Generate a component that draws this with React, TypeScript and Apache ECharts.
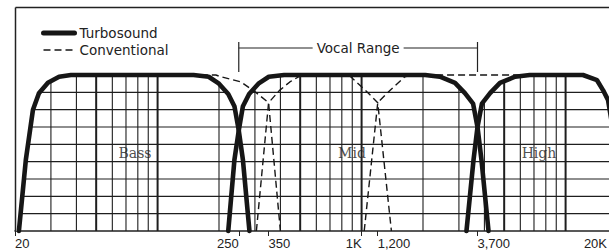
import React, { useEffect, useRef } from 'react';
import * as echarts from 'echarts';

// ---- data (frequency in Hz, level in grid units 0..9) ----
const turboBass: [number, number][] = [
  [20.9, 0], [22.6, 4.1], [24.5, 7.0], [26.2, 7.95], [29, 8.55], [32.9, 8.9], [37.6, 9],
  [150, 9], [178, 8.9], [200, 8.5], [222, 7.9], [238, 7.2], [250, 5.8], [262, 4.1], [282, 0],
];
const turboMid: [number, number][] = [
  [222, 0], [238, 4.1], [250, 5.8], [262, 7.2], [281, 7.9], [312, 8.5], [351, 8.9], [417, 9],
  [2050, 9], [2420, 8.9], [2870, 8.55], [3210, 7.95], [3520, 7.35], [3700, 6.0], [3870, 4.1], [4190, 0],
];
const turboHigh: [number, number][] = [
  [3267, 0], [3537, 4.1], [3700, 6.0], [3889, 7.35], [4265, 7.95], [4770, 8.55], [5657, 8.9], [6678, 9],
  [12170, 9], [14260, 8.7], [15250, 8.13], [16140, 7.56], [17100, 5.8], [18100, 2.9], [18800, 0],
];
const convBass: [number, number][] = [
  [20.9, 0], [22.6, 4.1], [24.5, 7.0], [26.2, 7.95], [29, 8.55], [32.9, 8.9], [37.6, 9],
  [193, 9], [204, 8.9], [256, 8.6], [303, 8.0], [350, 7.4], [400, 0],
];
const convMid: [number, number][] = [
  [305, 0], [350, 7.4], [395, 8.1], [445, 8.6], [500, 8.95], [520, 9],
  [860, 9], [884, 8.9], [1040, 8.14], [1200, 7.4], [1400, 0],
];
const convHigh: [number, number][] = [
  [1030, 0], [1200, 7.4], [1385, 8.14], [1630, 8.9], [1750, 9],
  [12170, 9], [14260, 8.7], [15250, 8.13], [16140, 7.56], [17100, 5.8], [18100, 2.9], [18800, 0],
];

const crossovers = [250, 3700];
const vocalRange = [250, 3700];
const tickFreqs = [20, 250, 350, 1000, 1200, 3700, 20000];
const tickLabels = ['20', '250', '350', '1K', '1,200', '3,700', '20K'];
const tickSide = ['left', 'right', 'left', 'right', 'left', 'left', 'right'];
const gridFreqs = [30, 40, 50, 60, 70, 80, 90, 100, 200, 300, 400, 500, 600, 700, 800, 900,
  1000, 2000, 3000, 4000, 5000, 6000, 7000, 8000, 9000, 10000];
const gridLevels = [1, 2, 3, 4, 5, 6, 7, 8];
const bandNames = ['Bass', 'Mid', 'High'];
const bandFreqs = [77.5, 897, 7404];
const bandLevel = 4.5;

const X_MIN = 20;
const X_MAX = 20000;
const Y_MAX = 9;
const INK = '#161616';
const VIEW_W = 609;

export default function App() {
  const ref = useRef<HTMLDivElement>(null);

  useEffect(() => {
    const chart = echarts.init(ref.current!, null, { renderer: 'svg' });
    const ctx = document.createElement('canvas').getContext('2d')!;
    ctx.font = '13px "Liberation Sans"';
    const widths = tickLabels.map(t => ctx.measureText(t).width);
    const buildRich = (overflow: number[]) => {
      const rich: any = {};
      tickLabels.forEach((t, i) => {
        const w = widths[i];
        const extra = overflow[i] > 0 ? 2 * overflow[i] : 0;
        rich['t' + i] = {
          fontFamily: 'Liberation Sans', fontSize: 13, color: '#222',
          padding: tickSide[i] === 'left' ? [0, 0, 0, w] : [0, w + extra, 0, 0],
        };
      });
      return rich;
    };
    const nearest = (v: number) => {
      let best = 0, bd = Infinity;
      tickFreqs.forEach((f, i) => {
        const d = Math.abs(Math.log(v / f));
        if (d < bd) { bd = d; best = i; }
      });
      return best;
    };

    const envelope = [
      [X_MIN, 0],
      ...turboBass.filter(p => p[0] <= crossovers[0]),
      ...turboMid.filter(p => p[0] > crossovers[0] && p[0] <= crossovers[1]),
      ...turboHigh.filter(p => p[0] > crossovers[1]),
    ];

    const turboStyle = { color: INK, width: 4.6, cap: 'round', join: 'round' };
    const convStyle = { color: INK, width: 1.4, type: [7, 4] };
    const mk = (name: string, data: any, z: number, lineStyle: any) => ({
      type: 'line', name, data, z, symbol: 'none', clip: false, silent: true,
      itemStyle: { color: INK }, lineStyle,
    });

    const xAxisOpt = (rich: any) => ({
      type: 'log', logBase: 10, min: X_MIN, max: X_MAX,
      axisLine: { show: true, lineStyle: { color: '#222', width: 1.5 } },
      axisTick: { show: true, customValues: tickFreqs, length: 5, lineStyle: { color: '#222' } },
      axisLabel: {
        show: true, customValues: tickFreqs, margin: 6, rich,
        formatter: (v: number) => { const i = nearest(v); return `{t${i}|${tickLabels[i]}}`; },
      },
      splitLine: { show: false },
      minorTick: { show: false },
      minorSplitLine: { show: false },
    });

    chart.setOption({
      animation: false,
      backgroundColor: '#fff',
      grid: { left: 15, top: 75, width: 612, height: 156, containLabel: false, outerBoundsMode: 'none' },
      legend: {
        orient: 'vertical', left: 36, top: 21, itemWidth: 31, itemHeight: 14, itemGap: 3,
        selectedMode: false,
        itemStyle: { opacity: 0 },
        textStyle: { fontFamily: 'DejaVu Sans', fontSize: 13.5, color: '#222' },
        data: [
          { name: 'Turbosound', itemStyle: { opacity: 0 }, lineStyle: { width: 5, color: INK, type: 'solid' } },
          { name: 'Conventional', itemStyle: { opacity: 0 }, lineStyle: { width: 1.5, color: INK, type: [7, 4] } },
        ],
      },
      xAxis: xAxisOpt(buildRich(tickFreqs.map(() => 0))),
      yAxis: {
        type: 'value', min: 0, max: Y_MAX, interval: 1,
        axisLine: { show: false }, axisTick: { show: false }, axisLabel: { show: false },
        splitLine: { show: false },
      },
      series: [
        {
          type: 'custom', name: 'hgrid', z: 1, silent: true, clip: false,
          data: gridLevels.map(l => [X_MIN, l]),
          renderItem: (_p: any, api: any) => {
            const l = api.value(1);
            const a = api.coord([X_MIN, l]);
            const b = api.coord([X_MAX, l]);
            return { type: 'line', shape: { x1: a[0], y1: a[1], x2: b[0], y2: b[1] }, style: { stroke: '#1e1e1e', lineWidth: 1.1 } };
          },
        },
        {
          type: 'custom', name: 'vgrid', z: 1, silent: true, clip: false,
          data: gridFreqs.map(f => [f, 0]),
          renderItem: (_p: any, api: any) => {
            const f = api.value(0);
            const a = api.coord([f, 0]);
            const b = api.coord([f, Y_MAX]);
            const m = Math.round(f / Math.pow(10, Math.floor(Math.log10(f) + 1e-9)));
            const w = m === 1 || m === 5 ? 2 : 1.1;
            return { type: 'line', shape: { x1: a[0], y1: a[1], x2: b[0], y2: b[1] }, style: { stroke: '#1e1e1e', lineWidth: w } };
          },
        },
        {
          type: 'line', name: 'mask', data: envelope, z: 2, symbol: 'none', clip: false, silent: true,
          lineStyle: { width: 0, opacity: 0 },
          areaStyle: { color: '#fff', opacity: 1, origin: 'end' },
        },
        mk('Conventional', convBass, 3, convStyle),
        mk('Conventional', convMid, 3, convStyle),
        mk('Conventional', convHigh, 3, convStyle),
        mk('Turbosound', turboBass, 4, turboStyle),
        mk('Turbosound', turboMid, 4, turboStyle),
        mk('Turbosound', turboHigh, 4, turboStyle),
        {
          type: 'scatter', name: 'bands', z: 5, silent: true, symbolSize: 1,
          itemStyle: { color: 'rgba(0,0,0,0)' },
          data: bandNames.map((n, i) => ({ name: n, value: [bandFreqs[i], bandLevel] })),
          label: { show: true, position: 'inside', formatter: '{b}', fontFamily: 'DejaVu Serif', fontSize: 14, color: '#222' },
        },
      ],
    });

    // keep tick labels inside the visible page
    const overflow = tickFreqs.map((f, i) => {
      const px = chart.convertToPixel({ xAxisIndex: 0 }, f) as number;
      return tickSide[i] === 'right' ? px - (VIEW_W - 2) : 0;
    });

    const xa = chart.convertToPixel({ xAxisIndex: 0 }, vocalRange[0]) as number;
    const xb = chart.convertToPixel({ xAxisIndex: 0 }, vocalRange[1]) as number;
    const cx = (xa + xb) / 2;
    ctx.font = '13.5px "DejaVu Sans"';
    const tw = ctx.measureText('Vocal Range').width;
    const stroke = { stroke: '#222', lineWidth: 1.2 };
    chart.setOption({
      xAxis: xAxisOpt(buildRich(overflow)),
      graphic: [
        { type: 'line', z: 10, shape: { x1: 15.5, y1: 7.5, x2: VIEW_W, y2: 7.5 }, style: { stroke: '#222', lineWidth: 1.5 } },
        { type: 'line', z: 10, shape: { x1: 15.5, y1: 7.5, x2: 15.5, y2: 231 }, style: { stroke: '#222', lineWidth: 1.5 } },
        { type: 'line', z: 10, shape: { x1: xa, y1: 42, x2: xa, y2: 72 }, style: stroke },
        { type: 'line', z: 10, shape: { x1: xb, y1: 42, x2: xb, y2: 72 }, style: stroke },
        { type: 'line', z: 10, shape: { x1: xa, y1: 48, x2: cx - tw / 2 - 4, y2: 48 }, style: stroke },
        { type: 'line', z: 10, shape: { x1: cx + tw / 2 + 4, y1: 48, x2: xb, y2: 48 }, style: stroke },
        {
          type: 'text', z: 10, x: cx, y: 48,
          style: { text: 'Vocal Range', fontFamily: 'DejaVu Sans', fontSize: 13.5, fill: '#222', align: 'center', verticalAlign: 'middle' },
        },
      ],
    });

    return () => chart.dispose();
  }, []);

  return <div ref={ref} style={{ position: 'fixed', left: 0, top: 0, width: 609, height: 252 }} />;
}
